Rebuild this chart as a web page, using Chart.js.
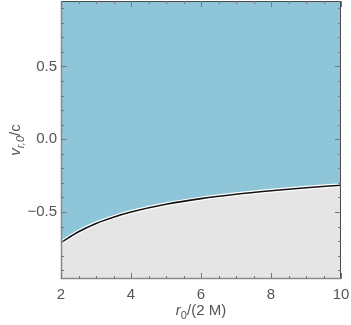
<!DOCTYPE html>
<html>
<head>
<meta charset="utf-8">
<script src="https://cdn.jsdelivr.net/npm/chart.js@4"></script>
<style>
  html, body { margin: 0; padding: 0; background: #fff; }
  #wrap { width: 351px; height: 325px; }
</style>
</head>
<body>
<div id="wrap"><canvas id="regionChart"></canvas></div>
<script>
// values
const rValues = [2, 2.5, 3, 3.5, 4, 5, 6, 7, 8, 9, 10];
const vValues = [-0.71, -0.635, -0.578, -0.535, -0.50, -0.447, -0.408, -0.378, -0.354, -0.333, -0.316];
const yTicks = [-0.5, 0, 0.5];
const xTicks = [2, 4, 6, 8, 10];

const points = rValues.map((r, i) => ({ x: r, y: vValues[i] }));

const blue = "#8EC5D8";
const gray = "#E5E5E5";
const axisGray = "#8a8a8a";
const labelGray = "#555555";

function fmt(v) {
    const s = v.toFixed(1);
    return v < 0 ? "\u2212" + s.slice(1) : s;
}

// frame, inward ticks and the axis titles with subscripts
const framePlugin = {
    id: "frame",
    afterDraw(chart) {
        const ctx = chart.ctx;
        const a = chart.chartArea;
        const xs = chart.scales.x, ys = chart.scales.y;
        ctx.save();

        // top + right
        ctx.strokeStyle = "#4a4a4a";
        ctx.lineWidth = 1;
        ctx.beginPath();
        ctx.moveTo(a.left, a.top + 0.5);
        ctx.lineTo(a.right - 0.5, a.top + 0.5);
        ctx.lineTo(a.right - 0.5, a.bottom);
        ctx.stroke();
        // left + bottom
        ctx.strokeStyle = axisGray;
        ctx.lineWidth = 1.5;
        ctx.beginPath();
        ctx.moveTo(a.left + 0.5, a.top);
        ctx.lineTo(a.left + 0.5, a.bottom - 0.5);
        ctx.lineTo(a.right, a.bottom - 0.5);
        ctx.stroke();

        ctx.lineWidth = 1;
        ctx.strokeStyle = "#777";
        ctx.beginPath();
        for (let v = 2; v <= 10.001; v += 0.5) {
            const px = Math.round(xs.getPixelForValue(v)) + 0.5;
            const len = (Math.abs(v % 2) < 1e-6) ? 6 : 3;
            ctx.moveTo(px, a.bottom); ctx.lineTo(px, a.bottom - len);
            ctx.moveTo(px, a.top); ctx.lineTo(px, a.top + len);
        }
        for (let k = -9; k <= 9; k++) {
            const v = k / 10;
            const py = Math.round(ys.getPixelForValue(v)) + 0.5;
            const len = (k % 5 === 0) ? 6 : 3;
            ctx.moveTo(a.left, py); ctx.lineTo(a.left + len, py);
            ctx.moveTo(a.right, py); ctx.lineTo(a.right - len, py);
        }
        ctx.stroke();

        // x title: r_0/(2 M)
        ctx.fillStyle = labelGray;
        ctx.textBaseline = "alphabetic";
        const big = "15px 'Liberation Sans', Arial, sans-serif";
        const bigIt = "italic 15px 'Liberation Sans', Arial, sans-serif";
        const small = "11px 'Liberation Sans', Arial, sans-serif";
        const smallIt = "italic 11px 'Liberation Sans', Arial, sans-serif";
        ctx.font = bigIt; const w1 = ctx.measureText("r").width;
        ctx.font = small; const w2 = ctx.measureText("0").width;
        ctx.font = big; const w3 = ctx.measureText("/(2 M)").width;
        let x0 = (a.left + a.right) / 2 - (w1 + w2 + w3) / 2;
        const by = 315;
        ctx.font = bigIt; ctx.fillText("r", x0, by); x0 += w1;
        ctx.font = small; ctx.fillText("0", x0, by + 4); x0 += w2;
        ctx.font = big; ctx.fillText("/(2 M)", x0, by);

        // y title: v_{r,0}/c
        ctx.save();
        ctx.translate(20, (a.top + a.bottom) / 2);
        ctx.rotate(-Math.PI / 2);
        ctx.font = bigIt; const u1 = ctx.measureText("v").width;
        ctx.font = smallIt; const u2 = ctx.measureText("r,0").width;
        ctx.font = big; const u3 = ctx.measureText("/c").width;
        let y0 = -(u1 + u2 + u3) / 2;
        ctx.font = bigIt; ctx.fillText("v", y0, 0); y0 += u1;
        ctx.font = smallIt; ctx.fillText("r,0", y0, 4); y0 += u2;
        ctx.font = big; ctx.fillText("/c", y0, 0);
        ctx.restore();

        ctx.restore();
    }
};

new Chart(document.getElementById("regionChart"), {
    type: "line",
    data: {
        datasets: [
            { data: points, order: 3, fill: "start", backgroundColor: gray, borderWidth: 0, pointRadius: 0, cubicInterpolationMode: "monotone" },
            { data: points, order: 2, fill: "end", backgroundColor: blue, borderWidth: 0, pointRadius: 0, cubicInterpolationMode: "monotone" },
            { data: points, order: 1, fill: false, borderColor: "#ffffff", borderWidth: 4, pointRadius: 0, cubicInterpolationMode: "monotone" },
            { data: points, order: 0, fill: false, borderColor: "#111111", borderWidth: 1.6, pointRadius: 0, cubicInterpolationMode: "monotone" }
        ]
    },
    options: {
        responsive: true,
        maintainAspectRatio: false,
        animation: false,
        layout: { padding: { left: 0, right: 10, top: 1, bottom: 0 } },
        plugins: { legend: { display: false }, tooltip: { enabled: false } },
        scales: {
            x: {
                type: "linear",
                min: 2, max: 10,
                grid: { display: false, drawTicks: false },
                border: { display: false },
                afterBuildTicks(s) { s.ticks = xTicks.map(v => ({ value: v })); },
                afterFit(s) { s.height = 46; s.paddingLeft = 0; s.paddingRight = 0; },
                ticks: {
                    color: labelGray,
                    font: { family: "'Liberation Sans', Arial, sans-serif", size: 15 },
                    padding: 7,
                    maxRotation: 0,
                    callback: v => String(v)
                }
            },
            y: {
                type: "linear",
                min: -0.96, max: 0.95,
                grid: { display: false, drawTicks: false },
                border: { display: false },
                afterBuildTicks(s) { s.ticks = yTicks.map(v => ({ value: v })); },
                afterFit(s) { s.width = 61; s.paddingTop = 0; s.paddingBottom = 0; },
                ticks: {
                    color: labelGray,
                    font: { family: "'Liberation Sans', Arial, sans-serif", size: 15 },
                    padding: 4,
                    callback: v => fmt(v)
                }
            }
        }
    },
    plugins: [framePlugin]
});
</script>
</body>
</html>
